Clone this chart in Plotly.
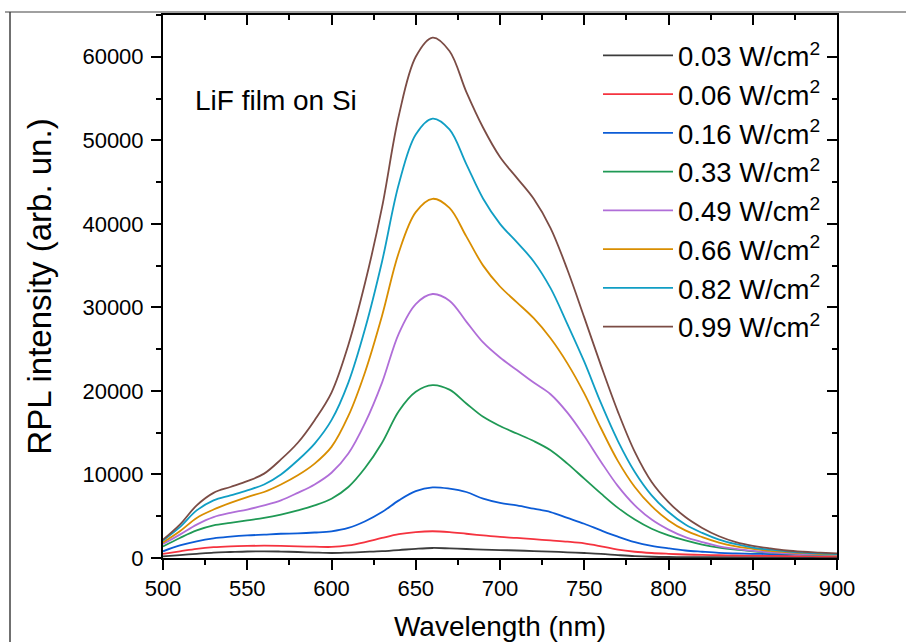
import plotly.graph_objects as go

wavelength = list(range(500, 901, 10))

labels = ["0.03 W/cm<sup>2</sup>", "0.06 W/cm<sup>2</sup>", "0.16 W/cm<sup>2</sup>", "0.33 W/cm<sup>2</sup>",
          "0.49 W/cm<sup>2</sup>", "0.66 W/cm<sup>2</sup>", "0.82 W/cm<sup>2</sup>", "0.99 W/cm<sup>2</sup>"]
colors = ["#3c3c3c", "#f5333f", "#0c5cd6", "#1f9955", "#b06ed8", "#d98e00", "#109ec4", "#7b4c45"]

p003 = [200, 350, 500, 650, 720, 780, 800, 770, 720, 650, 600, 650, 730, 820, 950, 1100, 1200, 1150, 1080, 1000,
        950, 900, 830, 760, 680, 600, 500, 350, 220, 150, 120, 110, 100, 100, 100, 100, 100, 100, 100, 100, 100]
p006 = [500, 800, 1100, 1300, 1400, 1450, 1470, 1450, 1400, 1350, 1320, 1500, 1900, 2400, 2850, 3100, 3200, 3100, 2900, 2700,
        2520, 2400, 2250, 2100, 1950, 1750, 1400, 1000, 750, 600, 500, 420, 370, 330, 300, 280, 260, 240, 220, 210, 200]
p016 = [800, 1500, 2000, 2350, 2550, 2700, 2800, 2900, 2950, 3050, 3200, 3600, 4400, 5500, 6900, 8000, 8450, 8300, 7900, 7100,
        6600, 6300, 5900, 5500, 4800, 4100, 3300, 2550, 1900, 1450, 1150, 900, 750, 620, 550, 500, 470, 450, 430, 420, 400]
p033 = [1390, 2400, 3300, 3900, 4200, 4500, 4800, 5200, 5700, 6300, 7100, 8500, 10800, 13800, 17600, 19900, 20700, 20150, 18500, 16900,
        15800, 14900, 14000, 12900, 11300, 9500, 7700, 6000, 4600, 3500, 2700, 2100, 1600, 1250, 1000, 800, 650, 540, 450, 380, 320]
p049 = [1680, 2800, 4000, 4900, 5400, 5800, 6300, 6900, 7800, 8800, 10200, 12500, 16200, 21000, 26900, 30400, 31600, 30800, 28300, 25800,
        24000, 22500, 21000, 19600, 17400, 14600, 11500, 8600, 6300, 4600, 3400, 2500, 1900, 1400, 1100, 850, 680, 560, 470, 400, 350]
p066 = [1870, 3200, 4800, 5800, 6600, 7300, 7900, 8800, 9900, 11300, 13300, 17000, 22300, 29000, 36600, 41400, 43000, 41900, 38500, 35000,
        32500, 30600, 28700, 26300, 23300, 19700, 15500, 11600, 8500, 6200, 4500, 3300, 2500, 1850, 1400, 1100, 850, 700, 580, 480, 420]
p082 = [2100, 3700, 5700, 6900, 7500, 8100, 8800, 10000, 11700, 13700, 16500, 21000, 27500, 35500, 44800, 50700, 52600, 51300, 47150, 43000,
        40000, 37800, 35500, 32300, 28000, 23500, 18500, 14000, 10300, 7500, 5500, 4000, 3000, 2200, 1650, 1250, 1000, 800, 650, 550, 480]
p099 = [2200, 4000, 6300, 7800, 8500, 9200, 10100, 11800, 13800, 16500, 19800, 25500, 33000, 42000, 53000, 60000, 62300, 60700, 55800, 51500,
        48000, 45500, 43000, 39500, 34500, 28800, 23000, 17500, 12700, 9100, 6700, 4900, 3600, 2600, 1900, 1450, 1150, 900, 750, 650, 550]

series = [p003, p006, p016, p033, p049, p066, p082, p099]

FONT = "Liberation Sans, Arial, sans-serif"

fig = go.Figure()
for name, col, vals in zip(labels, colors, series):
    fig.add_trace(go.Scatter(x=wavelength, y=vals, mode="lines", name=name,
                             line=dict(color=col, width=1.8, shape="spline", smoothing=1.0)))

# invisible copy on the mirrored axes so the top/right inward ticks are drawn
fig.add_trace(go.Scatter(x=wavelength, y=p099, xaxis="x2", yaxis="y2", mode="lines",
                         line=dict(width=0, color="rgba(0,0,0,0)"), showlegend=False, hoverinfo="skip"))

W, H = 906, 642
L, R, T, B = 163, 837, 15, 558
pw, ph = R - L, B - T

def px(x):
    return (x - L) / pw

def py(y):
    return (B - y) / ph

axis_common = dict(showline=True, linecolor="black", linewidth=2, ticks="outside", ticklen=10, tickwidth=2,
                   tickcolor="black", showgrid=False, zeroline=False, automargin=False, tickformat="d",
                   tickfont=dict(family=FONT, size=22, color="black"))

fig.update_layout(
    width=W, height=H,
    margin=dict(l=L, r=W - R, t=T, b=H - B, autoexpand=False),
    paper_bgcolor="white", plot_bgcolor="white",
    font=dict(family=FONT, color="black"),
    xaxis=dict(range=[500, 900], dtick=50, tick0=500, ticklabelstandoff=0,
               minor=dict(dtick=25, ticks="outside", ticklen=5, tickwidth=2, tickcolor="black"),
               title=dict(text="Wavelength (nm)", font=dict(family=FONT, size=28), standoff=18),
               mirror=True, **axis_common),
    yaxis=dict(range=[0, 65000], dtick=10000, tick0=0, ticklabelstandoff=3,
               minor=dict(dtick=5000, ticks="outside", ticklen=5, tickwidth=2, tickcolor="black"),
               title=dict(text="RPL intensity (arb. un.)", font=dict(family=FONT, size=33), standoff=21),
               mirror=True, **axis_common),
    xaxis2=dict(overlaying="x", side="top", anchor="y2", range=[500, 900], dtick=50, tick0=500,
                ticks="inside", ticklen=10, tickwidth=2, tickcolor="black", showticklabels=False,
                showgrid=False, zeroline=False, showline=False, automargin=False,
                minor=dict(dtick=25, ticks="inside", ticklen=5, tickwidth=2, tickcolor="black")),
    yaxis2=dict(overlaying="y", side="right", anchor="x2", range=[0, 65000], dtick=10000, tick0=0,
                ticks="inside", ticklen=10, tickwidth=2, tickcolor="black", showticklabels=False,
                showgrid=False, zeroline=False, showline=False, automargin=False,
                minor=dict(dtick=5000, ticks="inside", ticklen=5, tickwidth=2, tickcolor="black")),
    legend=dict(x=px(598), y=py(31), xanchor="left", yanchor="top", bgcolor="rgba(0,0,0,0)",
                font=dict(family=FONT, size=27.5, color="black"), itemwidth=70, tracegroupgap=0),
    showlegend=True,
)

fig.add_annotation(x=px(193), y=py(100), xref="paper", yref="paper", text="LiF film on Si",
                   showarrow=False, xanchor="left", yanchor="middle",
                   font=dict(family=FONT, size=28, color="black"))

# outer frame lines of the original figure
fig.add_shape(type="line", xref="paper", yref="paper", x0=px(5), x1=px(906), y0=py(12), y1=py(12),
              line=dict(color="#808080", width=1.5))
fig.add_shape(type="line", xref="paper", yref="paper", x0=px(10), x1=px(10), y0=py(12), y1=py(642),
              line=dict(color="#404040", width=1.5))

fig.write_html("out.html", config={"displayModeBar": False},
               post_script="document.body.style.margin='0';document.body.style.padding='0';")
